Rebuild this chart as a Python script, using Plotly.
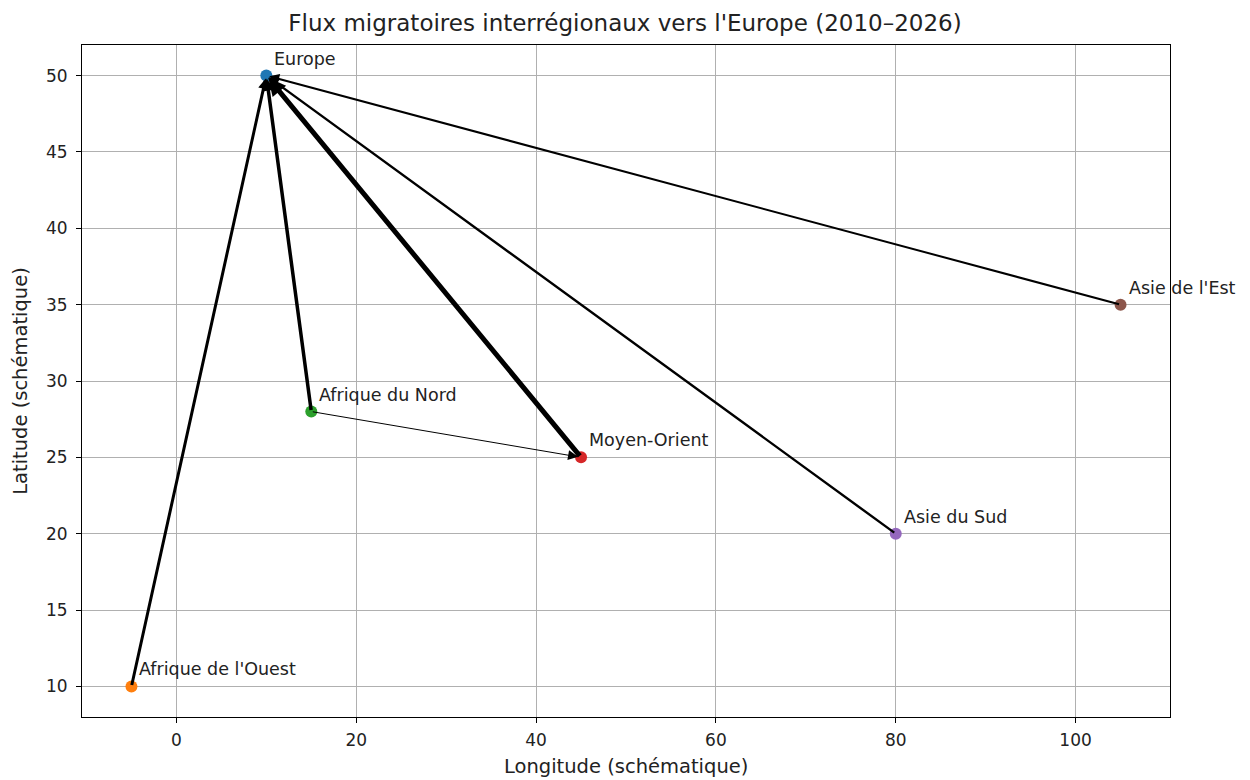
import plotly.graph_objects as go

regions = ["Europe", "Afrique de l'Ouest", "Afrique du Nord", "Moyen-Orient", "Asie du Sud", "Asie de l'Est"]
lon = [10, -5, 15, 45, 80, 105]
lat = [50, 10, 28, 25, 20, 35]
colors = ["#1f77b4", "#ff7f0e", "#2ca02c", "#d62728", "#9467bd", "#8c564b"]

flow_src = ["Afrique de l'Ouest", "Afrique du Nord", "Moyen-Orient", "Asie du Sud", "Asie de l'Est", "Afrique du Nord"]
flow_dst = ["Europe", "Europe", "Europe", "Europe", "Europe", "Moyen-Orient"]
flow_val = [3.0, 3.5, 5.0, 2.4, 2.0, 1.0]

pos = {r: (x, y) for r, x, y in zip(regions, lon, lat)}

fig = go.Figure()

annotations = []
for s, d, v in zip(flow_src, flow_dst, flow_val):
    sx, sy = pos[s]
    dx, dy = pos[d]
    annotations.append(dict(
        x=dx, y=dy, xref="x", yref="y",
        ax=sx, ay=sy, axref="x", ayref="y",
        text="", showarrow=True,
        arrowhead=2, arrowwidth=v, arrowsize=max(0.7, 2.0 / v),
        arrowcolor="black", standoff=3, startstandoff=0,
    ))

fig.add_trace(go.Scatter(
    x=lon, y=lat, mode="markers",
    marker=dict(size=12, color=colors, line=dict(width=0)),
    showlegend=False, hoverinfo="skip",
))

for r, x, y in zip(regions, lon, lat):
    annotations.append(dict(
        x=x, y=y, xref="x", yref="y", text=r, showarrow=False,
        xanchor="left", yanchor="bottom", xshift=6, yshift=5,
        font=dict(family="DejaVu Sans", size=17.5, color="#222222"),
    ))

annotations.append(dict(
    x=0.5, y=0, xref="paper", yref="paper", text="Longitude (schématique)",
    showarrow=False, xanchor="center", yanchor="top", yshift=-36,
    font=dict(family="DejaVu Sans", size=19.5, color="#222222"),
))

fig.update_layout(
    width=1250, height=780,
    margin=dict(l=82, r=80, t=45, b=63, autoexpand=False),
    paper_bgcolor="white", plot_bgcolor="white",
    font=dict(family="DejaVu Sans", size=17, color="#222222"),
    title=dict(text="Flux migratoires interrégionaux vers l'Europe (2010–2026)",
               x=0.5, xanchor="center", y=1 - 23 / 780, yanchor="middle",
               font=dict(size=23, color="#222222")),
    annotations=annotations,
    showlegend=False,
)
fig.update_xaxes(
    range=[-10.5, 110.5], dtick=20, tick0=0, automargin=False,
    showgrid=True, gridcolor="#b0b0b0", gridwidth=1,
    showline=True, linecolor="black", linewidth=1, mirror=True,
    ticks="outside", ticklen=5, tickcolor="black",
    zeroline=False, ticklabelstandoff=3,
    tickfont=dict(size=17),
)
fig.update_yaxes(
    range=[8, 52], dtick=5, tick0=0, automargin=False,
    showgrid=True, gridcolor="#b0b0b0", gridwidth=1,
    showline=True, linecolor="black", linewidth=1, mirror=True,
    ticks="outside", ticklen=5, tickcolor="black",
    zeroline=False, ticklabelstandoff=5,
    title=dict(text="Latitude (schématique)", font=dict(size=19.5), standoff=13),
    tickfont=dict(size=17),
)

fig.write_html(
    "out.html",
    config={"displayModeBar": False},
    post_script="document.body.style.margin='0';document.body.style.overflow='hidden';",
)
